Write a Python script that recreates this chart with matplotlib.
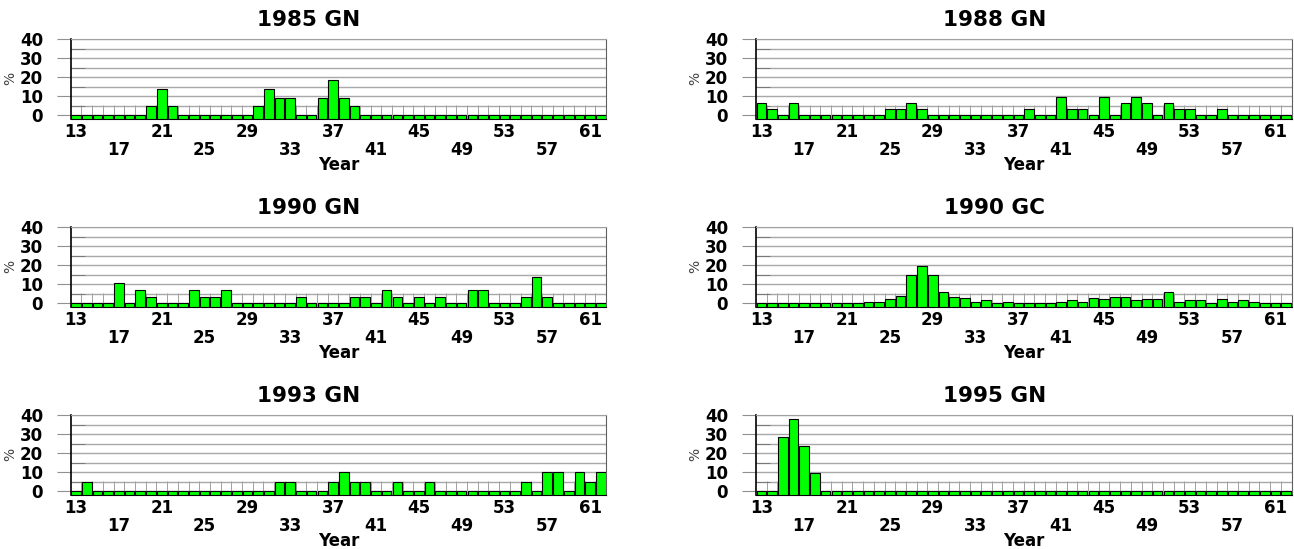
import matplotlib
matplotlib.use("Agg")
import matplotlib.pyplot as plt

plt.rcParams['font.family'] = ['DejaVu Sans']
plt.rcParams['font.weight'] = 'bold'

years = list(range(13, 63))

# percent per year of age (13..62)
gn1985 = [0, 0, 0, 0, 0, 0, 0, 4.6, 13.7, 4.6,
          0, 0, 0, 0, 0, 0, 0, 4.6, 13.7, 9.2,
          9.2, 0, 0, 9.2, 18.4, 9.2, 4.6, 0, 0, 0,
          0, 0, 0, 0, 0, 0, 0, 0, 0, 0,
          0, 0, 0, 0, 0, 0, 0, 0, 0, 0]
gn1988 = [6.5, 3.2, 0, 6.5, 0, 0, 0, 0, 0, 0,
          0, 0, 3.2, 3.2, 6.5, 3.2, 0, 0, 0, 0,
          0, 0, 0, 0, 0, 3.2, 0, 0, 9.7, 3.2,
          3.2, 0, 9.7, 0, 6.5, 9.7, 6.5, 0, 6.5, 3.2,
          3.2, 0, 0, 3.2, 0, 0, 0, 0, 0, 0]
gn1990 = [0, 0, 0, 0, 10.3, 0, 6.9, 3.4, 0, 0,
          0, 6.9, 3.4, 3.4, 6.9, 0, 0, 0, 0, 0,
          0, 3.4, 0, 0, 0, 0, 3.4, 3.4, 0, 6.9,
          3.4, 0, 3.4, 0, 3.4, 0, 0, 6.9, 6.9, 0,
          0, 0, 3.4, 13.8, 3.4, 0, 0, 0, 0, 0]
gc1990 = [0, 0, 0, 0, 0, 0, 0, 0, 0, 0,
          0.6, 0.6, 2.1, 3.7, 14.7, 19.6, 14.7, 5.6, 3.2, 2.6,
          0.7, 1.4, 0, 0.7, 0, 0, 0, 0, 0.7, 1.4,
          0.7, 2.6, 2.1, 3.2, 3.2, 1.4, 2.1, 2.1, 5.6, 0.7,
          1.4, 1.4, 0, 2.1, 0.7, 1.4, 0.7, 0, 0, 0]
gn1993 = [0, 5, 0, 0, 0, 0, 0, 0, 0, 0,
          0, 0, 0, 0, 0, 0, 0, 0, 0, 5,
          5, 0, 0, 0, 5, 10, 5, 5, 0, 0,
          5, 0, 0, 5, 0, 0, 0, 0, 0, 0,
          0, 0, 5, 0, 10, 10, 0, 10, 5, 10]
gn1995 = [0, 0, 28.6, 38.1, 23.8, 9.5, 0, 0, 0, 0,
          0, 0, 0, 0, 0, 0, 0, 0, 0, 0,
          0, 0, 0, 0, 0, 0, 0, 0, 0, 0,
          0, 0, 0, 0, 0, 0, 0, 0, 0, 0,
          0, 0, 0, 0, 0, 0, 0, 0, 0, 0]

titles = ['1985 GN', '1988 GN', '1990 GN', '1990 GC', '1993 GN', '1995 GN']
series = [gn1985, gn1988, gn1990, gc1990, gn1993, gn1995]
row1_labels = [13, 21, 29, 37, 45, 53, 61]
row2_labels = [17, 25, 33, 41, 49, 57]

YMIN = -1.8

fig = plt.figure(figsize=(12.94, 5.49), dpi=100)
W, H = 1294, 549
lefts = [70.7, 756]
tops = [39, 227, 415]
aw, ah = 535.5, 79.5

for i, (title, vals) in enumerate(zip(titles, series)):
    col, row = i % 2, i // 2
    ax = fig.add_axes([lefts[col] / W, 1 - (tops[row] + ah) / H, aw / W, ah / H])

    ax.bar(years, [v - YMIN for v in vals], bottom=YMIN, width=0.9,
           color='#00ff00', edgecolor='black', linewidth=0.8, zorder=3)

    ax.set_xlim(12.5, 62.5)
    ax.set_ylim(YMIN, 40)
    ax.set_yticks([0, 10, 20, 30, 40])
    ax.set_yticks([5, 15, 25, 35], minor=True)
    ax.grid(axis='y', which='both', color='#a8a8a8', linewidth=1, zorder=0)
    ax.tick_params(axis='y', which='major', direction='out', length=10,
                   color='#909090', labelsize=12, pad=10)
    ax.tick_params(axis='y', which='minor', direction='in', length=10,
                   color='#707070')

    ax.set_xticks(row1_labels)
    ax.set_xticklabels([str(y) for y in row1_labels])
    ax.set_xticks([y + 0.5 for y in years[:-1]], minor=True)
    ax.tick_params(axis='x', which='major', length=0, labelsize=12, pad=3.5)
    ax.tick_params(axis='x', which='minor', direction='in', length=10,
                   color='#909090')

    sec = ax.secondary_xaxis('bottom')
    sec.set_xticks(row2_labels)
    sec.set_xticklabels([str(y) for y in row2_labels])
    sec.tick_params(length=0, labelsize=12, pad=16)
    sec.spines['bottom'].set_visible(False)

    ax.spines['left'].set_color('black')
    ax.spines['left'].set_linewidth(1.2)
    ax.spines['top'].set_color('#a0a0a0')
    ax.spines['right'].set_color('#606060')
    ax.spines['bottom'].set_color('black')

    ax.set_xlabel('Year', fontsize=12, fontweight='bold')
    ax.xaxis.set_label_coords(0.5, -0.47)
    ax.set_ylabel('%', fontsize=10, fontweight='normal', color='#404040')
    ax.yaxis.set_label_coords(-0.1, 0.5)

    ax.text(0.445, 1 + 19 / ah, title, transform=ax.transAxes,
            ha='center', va='center', fontsize=15.5, fontweight='bold')

fig.savefig('out.png', dpi=100)
